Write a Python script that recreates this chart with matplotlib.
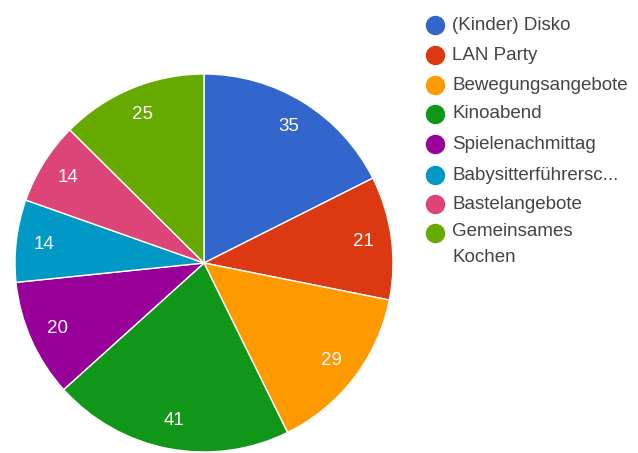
import matplotlib
matplotlib.use("Agg")
import matplotlib.pyplot as plt
from matplotlib.lines import Line2D

plt.rcParams['font.family'] = ['Liberation Sans', 'DejaVu Sans']

categories = ["(Kinder) Disko", "LAN Party", "Bewegungsangebote", "Kinoabend",
              "Spielenachmittag", "Babysitterführersc...", "Bastelangebote",
              "Gemeinsames\nKochen"]
counts = [35, 21, 29, 41, 20, 14, 14, 25]
colors = ["#3366cc", "#dc3912", "#ff9900", "#109618",
          "#990099", "#0099c6", "#dd4477", "#66aa00"]

W, H = 638, 453
fig = plt.figure(figsize=(W / 100, H / 100), dpi=100)

# pie centre and radius in pixels
cx, cy, r = 204, 263, 189
ax = fig.add_axes([(cx - r) / W, (H - cy - r) / H, 2 * r / W, 2 * r / H])

wedges, texts = ax.pie(counts, colors=colors, startangle=90, counterclock=False,
                       labels=[str(c) for c in counts], labeldistance=0.85,
                       wedgeprops=dict(edgecolor="white", linewidth=1.0),
                       textprops=dict(color="white", fontsize=13.5, ha="center", va="center"),
                       radius=1.0)
for w in wedges:
    w.set_clip_on(False)
ax.set_xlim(-1, 1)
ax.set_ylim(-1, 1)
ax.set_aspect("equal")
ax.axis("off")

# legend drawn as marker + text rows
row_y = [25, 55, 85, 114, 144, 175, 204, 233]
for name, col, y in zip(categories, colors, row_y):
    fig.add_artist(Line2D([435 / W], [1 - y / H], marker="o", markersize=13,
                          markerfacecolor=col, markeredgecolor=col, linestyle="none",
                          transform=fig.transFigure))
    if "\n" in name:
        fig.text(452 / W, 1 - (y - 10) / H, name, fontsize=13.5, color="#444444",
                 ha="left", va="top", linespacing=1.7)
    else:
        fig.text(452 / W, 1 - y / H, name, fontsize=13.5, color="#444444",
                 ha="left", va="center")

fig.savefig("out.png", dpi=100)
